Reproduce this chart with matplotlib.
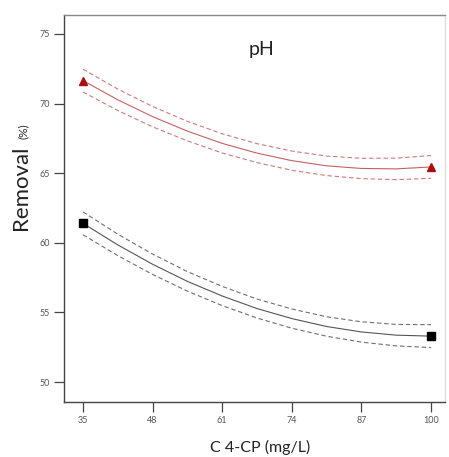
import matplotlib
matplotlib.use("Agg")
import matplotlib.pyplot as plt

plt.rcParams['font.family'] = ['Lato', 'DejaVu Sans']

x = [35, 41.5, 48, 54.5, 61, 67.5, 74, 80.5, 87, 93.5, 100]

red_mid = [71.65, 70.27, 69.06, 68.02, 67.14, 66.44, 65.90, 65.53, 65.34, 65.31, 65.45]
red_up = [72.47, 71.04, 69.79, 68.72, 67.83, 67.12, 66.59, 66.23, 66.07, 66.08, 66.27]
red_lo = [70.83, 69.50, 68.33, 67.32, 66.45, 65.76, 65.21, 64.83, 64.61, 64.54, 64.63]

blk_mid = [61.40, 59.85, 58.46, 57.23, 56.18, 55.28, 54.56, 53.99, 53.60, 53.37, 53.30]
blk_up = [62.22, 60.62, 59.19, 57.93, 56.87, 55.96, 55.25, 54.69, 54.33, 54.14, 54.12]
blk_lo = [60.58, 59.08, 57.73, 56.53, 55.49, 54.60, 53.87, 53.29, 52.87, 52.60, 52.48]

pts_x = [35, 100]
red_pts = [71.65, 65.45]
blk_pts = [61.40, 53.30]

xticks = [35, 48, 61, 74, 87, 100]
yticks = [50, 55, 60, 65, 70, 75]

fig = plt.figure(figsize=(4.49, 4.57), dpi=100)
ax = fig.add_axes([64/449, 1-402/457, (445-64)/449, (402-15)/457])

ax.plot(x, red_mid, color='#c86060', lw=0.8)
ax.plot(x, red_up, color='#cc7a7a', lw=0.8, ls=(0, (4, 2.5)))
ax.plot(x, red_lo, color='#cc7a7a', lw=0.8, ls=(0, (4, 2.5)))
ax.plot(pts_x, red_pts, ls='none', marker='^', ms=6, color='#a81010', mec='#a81010')

ax.plot(x, blk_mid, color='#555555', lw=0.8)
ax.plot(x, blk_up, color='#707070', lw=0.8, ls=(0, (4, 2.5)))
ax.plot(x, blk_lo, color='#707070', lw=0.8, ls=(0, (4, 2.5)))
ax.plot(pts_x, blk_pts, ls='none', marker='s', ms=5.5, color='black')

ax.set_xlim(31.45, 102.6)
ax.set_ylim(48.57, 76.36)
ax.set_xticks(xticks)
ax.set_yticks(yticks)
ax.tick_params(direction='out', length=7, width=0.9, color='#444444',
               labelsize=6.5, labelcolor='#555555', pad=3)

ax.spines['left'].set_color('#444444')
ax.spines['bottom'].set_color('#444444')
ax.spines['top'].set_color('#888888')
ax.spines['right'].set_color('#dddddd')
for s in ax.spines.values():
    s.set_linewidth(1.0)

fig.text(262/449, 1-50/457, 'pH', fontsize=14,
         ha='center', va='center', color='#222222')

fig.text(21/449, 1-188/457, 'Removal', rotation=90, fontsize=16,
         ha='center', va='center', color='#222222')
fig.text(23/449, 1-131/457, '(%)', rotation=90, fontsize=8.5,
         ha='center', va='center', color='#222222')
fig.text(260/449, 1-447/457, 'C 4-CP (mg/L)', fontsize=11.5,
         ha='center', va='center', color='#222222')

fig.savefig('out.png', dpi=100)
